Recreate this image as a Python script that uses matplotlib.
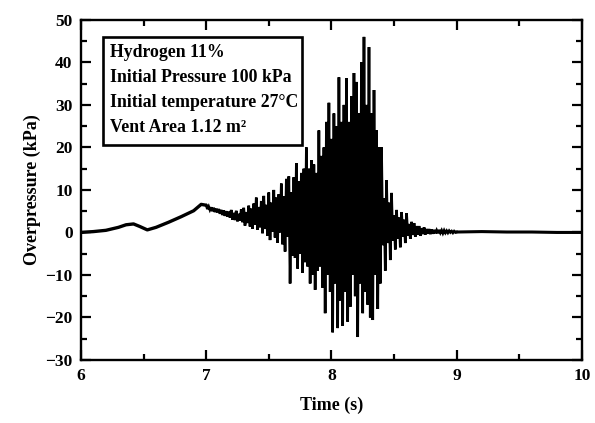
import numpy as np
import matplotlib
matplotlib.use("Agg")
import matplotlib.pyplot as plt
from matplotlib.patches import Rectangle
from matplotlib.ticker import MultipleLocator

# slow rise before the venting oscillations (time s, kPa)
head_t = [6.00, 6.10, 6.20, 6.30, 6.36, 6.42, 6.47, 6.53, 6.60, 6.70, 6.80, 6.90, 6.96, 7.00]
head_p = [0.0, 0.2, 0.5, 1.2, 1.8, 2.0, 1.4, 0.6, 1.2, 2.4, 3.7, 5.1, 6.6, 6.4]

# oscillation extremes, one every 10 ms from 7.00 s
osc_t0 = 7.00
osc_dt = 0.01
osc_p = [
    6.4, 5.5, 6.1, 5.3, 5.9, 5.0, 5.8, 4.8, 5.6, 4.7,
    5.5, 4.4, 5.3, 4.1, 5.2, 3.9, 5.0, 3.7, 4.9, 3.5,
    5.3, 3.0, 4.6, 2.9, 5.1, 2.6, 4.4, 2.8, 5.4, 2.4,
    5.8, 1.6, 4.8, 2.2, 6.3, 1.4, 5.6, 0.9, 6.8, 1.8,
    8.2, 0.6, 6.0, 1.2, 7.4, -0.2, 8.6, 0.8, 6.5, -0.8,
    9.4, -1.8, 7.0, 0.2, 10.0, -1.2, 8.2, -2.4, 9.0, 0.0,
    11.5, -2.8, 8.5, -4.5, 12.6, -1.0, 13.2, -12.0, 9.4, -5.5,
    13.0, -6.0, 16.3, -8.5, 12.0, -5.0, 14.0, -9.5, 15.0, -7.0,
    20.0, -8.0, 15.0, -12.0, 17.0, -10.0, 16.0, -13.5, 14.0, -9.0,
    24.0, -8.0, 18.0, -13.0, 20.0, -19.0, 26.0, -10.0, 30.5, -14.0,
    22.0, -23.5, 28.0, -12.0, 25.0, -22.5, 36.5, -16.0, 26.0, -22.0,
    30.0, -14.0, 36.3, -21.0, 26.0, -17.5, 32.0, -10.0, 37.5, -15.0,
    35.4, -24.6, 28.0, -12.0, 40.0, -19.0, 46.0, -14.0, 30.0, -17.0,
    43.6, -20.0, 28.0, -20.6, 33.5, -10.0, 24.0, -18.0, 20.0, -12.0,
    20.0, -3.0, 8.0, -9.0, 12.3, -2.5, 7.0, -6.5, 9.3, -2.0,
    4.0, -4.0, 5.3, -1.5, 3.5, -3.5, 4.8, -1.0, 3.0, -2.5,
    4.5, -0.8, 2.0, -1.5, 2.5, -0.6, 2.2, -1.0, 1.5, -0.5,
    1.5, -0.8, 1.0, -0.4, 1.2, -0.5, 0.8, -0.3, 0.8, -0.4,
    0.7, -0.3, 0.6, -0.2, 0.5, -0.2, 0.6, -0.1, 0.5, -0.2,
    0.5, -0.1, 0.4, -0.1, 0.4, 0.0, 0.3, -0.1, 0.3, 0.0,
]

# quiet tail
tail_t = [9.00, 9.20, 9.40, 9.60, 9.80, 10.00]
tail_p = [0.1, 0.2, 0.1, 0.1, 0.0, 0.0]

info_lines = [
    "Hydrogen 11%",
    "Initial Pressure 100 kPa",
    "Initial temperature 27°C",
    "Vent Area 1.12 m²",
]

plt.rcParams['font.family'] = ['Liberation Serif', 'DejaVu Serif']
plt.rcParams['font.weight'] = 'bold'

fig = plt.figure(figsize=(5.95, 4.23), dpi=100)
ax = fig.add_axes([0.136, 0.149, 0.842, 0.804])

osc_t = osc_t0 + osc_dt * np.arange(len(osc_p))
ax.plot(head_t, head_p, color='black', lw=2.4, solid_capstyle='round')
ax.plot(np.r_[osc_t, tail_t[0]], np.r_[osc_p, tail_p[0]], color='black', lw=1.9,
        solid_joinstyle='miter')
ax.plot(tail_t, tail_p, color='black', lw=2.2)

ax.set_xlim(6, 10)
ax.set_ylim(-30, 50)
ax.xaxis.set_major_locator(MultipleLocator(1))
ax.xaxis.set_minor_locator(MultipleLocator(0.5))
ax.yaxis.set_major_locator(MultipleLocator(10))
ax.yaxis.set_minor_locator(MultipleLocator(5))
ax.tick_params(which='both', direction='in', top=True, right=True,
               width=1.6, labelsize=12.5)
ax.tick_params(which='major', length=7, pad=6)
ax.tick_params(which='minor', length=4)
for lab in ax.get_xticklabels() + ax.get_yticklabels():
    lab.set_fontweight('bold')
for sp in ax.spines.values():
    sp.set_linewidth(1.7)

ax.set_xlabel("Time (s)", fontsize=13, fontweight='bold', labelpad=9)
ax.set_ylabel("Overpressure (kPa)", fontsize=13, fontweight='bold', labelpad=3)

# info box
ax.add_patch(Rectangle((0.044, 0.632), 0.397, 0.318, transform=ax.transAxes,
                       fill=False, lw=1.9, color='black', zorder=5))
for i, line in enumerate(info_lines):
    ax.text(0.058, 0.891 - 0.0735 * i, line, transform=ax.transAxes,
            fontsize=12.8, fontweight='bold', va='baseline', zorder=6)

fig.savefig("out.png", dpi=100)
